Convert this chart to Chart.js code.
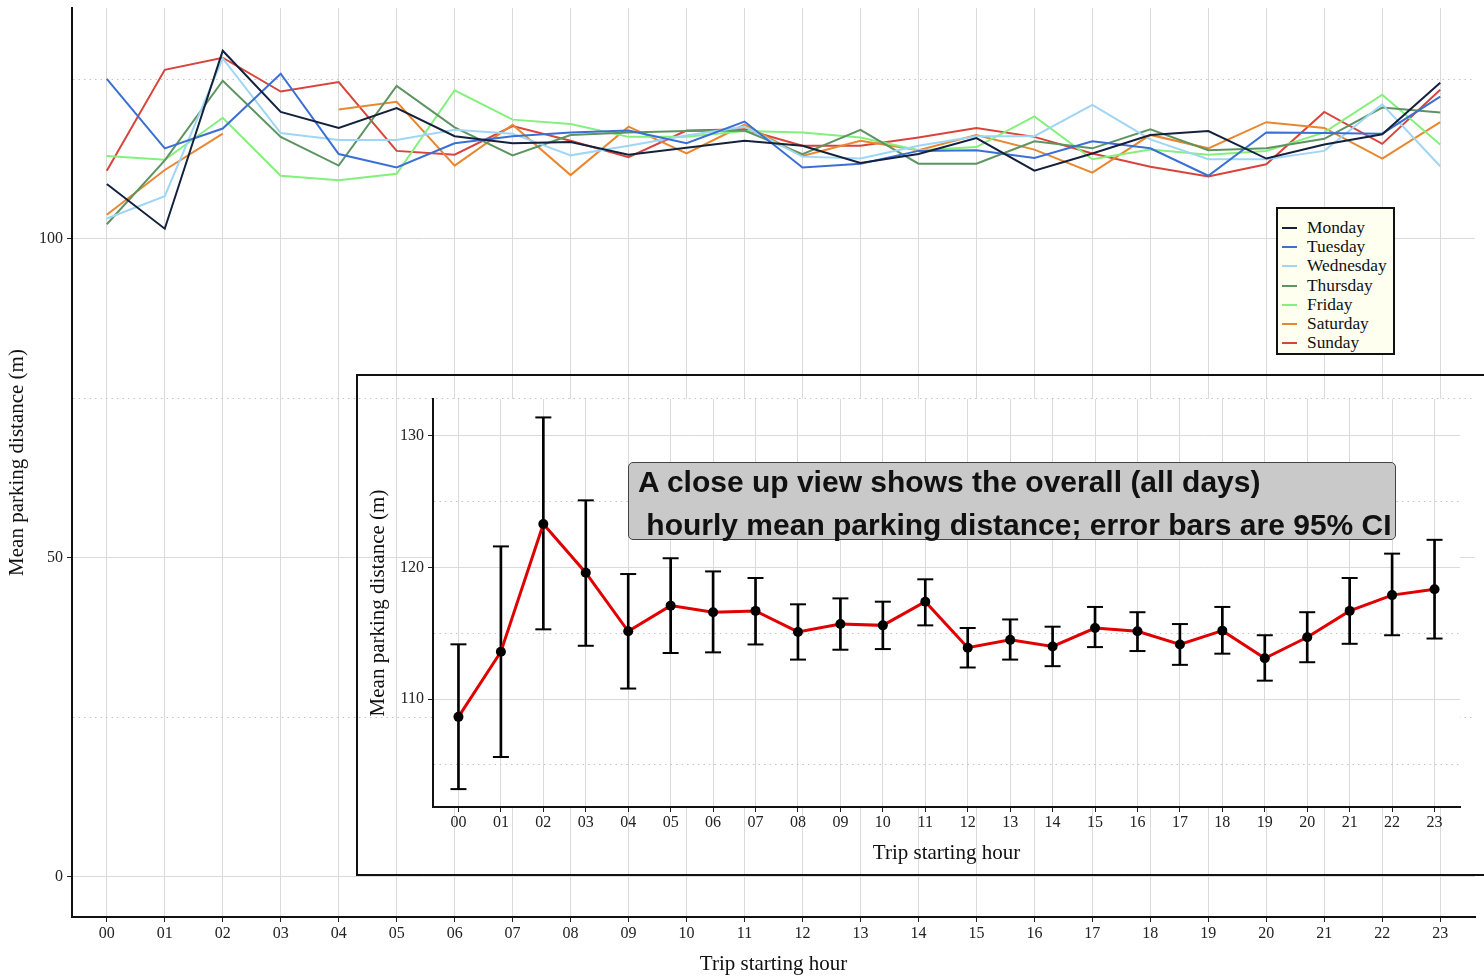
<!DOCTYPE html>
<html>
<head>
<meta charset="utf-8">
<title>Mean parking distance by trip starting hour</title>
<script src="https://cdn.jsdelivr.net/npm/chart.js@4.4.1/dist/chart.umd.min.js"></script>
<style>
  body { margin: 0; background: #fff; }
  #page { position: relative; width: 1484px; height: 978px; overflow: hidden; }
  canvas { position: absolute; }
  #legendBox {
    position: absolute; left: 1276px; top: 207px; width: 119px; height: 148px;
    box-sizing: border-box; border: 2px solid #111; background: #fffff0;
    padding: 9px 0 0 4px; font-family: 'Liberation Serif', serif; font-size: 17.4px; color: #111;
  }
  .item { height: 19.2px; line-height: 19.2px; white-space: nowrap; }
  .swatch { display: inline-block; width: 15px; height: 2px; vertical-align: middle; margin-right: 10px; position: relative; top: -1px; }
  #insetFrame {
    position: absolute; left: 356px; top: 374px; width: 1200px; height: 502px;
    box-sizing: border-box; border: 2px solid #111;
  }
  #note {
    position: absolute; left: 628px; top: 462px; width: 768px; height: 78px;
    box-sizing: border-box; border: 1px solid #444; border-radius: 5px; background: #c9c9c9;
    font-family: 'Liberation Sans', Arial, sans-serif; font-weight: bold; font-size: 30px;
    color: #111; padding-left: 9px; overflow: visible;
  }
  #note div { position: relative; top: -3px; line-height: 43px; white-space: pre; }
</style>
</head>
<body>
<div id="page">
  <canvas id="mainChart" width="1484" height="978" style="left:0;top:0"></canvas>
  <div id="legendBox"></div>
  <div id="insetFrame"></div>
  <canvas id="insetChart" width="1127" height="500" style="left:357px;top:375px"></canvas>
  <div id="note"><div>A close up view shows the overall (all days)</div><div> hourly mean parking distance; error bars are 95% CI</div></div>
</div>
<script>
// hour categories
const hours = ['00', '01', '02', '03', '04', '05', '06', '07', '08', '09', '10', '11',
               '12', '13', '14', '15', '16', '17', '18', '19', '20', '21', '22', '23'];

// mean parking distance (m) per day of week
const dayNames = ['Monday', 'Tuesday', 'Wednesday', 'Thursday', 'Friday', 'Saturday', 'Sunday'];
const dayColors = ['#14213d', '#3b6fd4', '#9fd6f5', '#5e9462', '#84f07c', '#e8872f', '#d8443b'];

const monday    = [108.6, 101.6, 129.5, 119.9, 117.4, 120.5, 116.1, 115.0, 115.2, 113.2, 114.3, 115.4,
                   114.6, 111.9, 113.3, 115.8, 110.7, 113.4, 116.3, 116.9, 112.6, 114.8, 116.4, 124.5];
const tuesday   = [125.1, 114.2, 117.3, 125.9, 113.3, 111.2, 115.0, 116.1, 116.7, 117.0, 115.0, 118.4,
                   111.2, 111.8, 113.8, 113.9, 112.7, 115.3, 114.2, 109.9, 116.7, 116.6, 116.5, 122.3];
const wednesday = [103.2, 106.7, 128.3, 116.6, 115.5, 115.5, 117.1, 116.5, 113.1, 114.6, 116.2, 117.6,
                   112.9, 112.6, 114.6, 116.1, 116.1, 121.0, 115.6, 112.5, 112.5, 113.8, 121.1, 111.4];
const thursday  = [102.3, 112.3, 124.8, 116.0, 111.5, 124.0, 117.5, 113.1, 116.3, 116.7, 116.9, 117.0,
                   113.3, 117.1, 111.8, 111.8, 115.3, 114.2, 117.2, 113.9, 114.2, 115.7, 120.6, 119.8];
const friday    = [113.0, 112.4, 119.0, 109.9, 109.2, 110.2, 123.3, 118.7, 118.0, 116.0, 116.0, 116.9,
                   116.7, 115.9, 113.9, 114.4, 119.2, 112.5, 114.0, 113.2, 113.8, 116.7, 122.6, 114.8];
const saturday  = [103.8, 110.8, 116.5, null, 120.3, 121.5, 111.5, 117.9, 110.0, 117.6, 113.4, 117.9,
                   113.0, 115.4, 113.9, 116.3, 114.0, 110.4, 116.3, 114.2, 118.3, 117.4, 112.6, 118.3];
const sunday    = [110.7, 126.5, 128.4, 123.1, 124.6, 113.8, 113.2, 117.7, 115.4, 112.8, 117.0, 117.2,
                   114.6, 114.6, 115.9, 117.4, 116.0, 113.4, 111.3, 109.8, 111.7, 119.9, 114.9, 123.4];
const dayValues = [monday, tuesday, wednesday, thursday, friday, saturday, sunday];

// all days together: hourly mean with 95% CI
const overallMean = [108.65, 113.6, 123.3, 119.6, 115.15, 117.1, 116.6, 116.7, 115.1, 115.7, 115.6, 117.4,
                     113.9, 114.5, 114.0, 115.4, 115.15, 114.15, 115.2, 113.1, 114.7, 116.7, 117.9, 118.35];
const ciLow  = [103.16, 105.6, 115.3, 114.05, 110.8, 113.5, 113.55, 114.15, 113.0, 113.75, 113.8, 115.6,
                112.4, 113.0, 112.5, 113.95, 113.65, 112.6, 113.45, 111.4, 112.8, 114.2, 114.85, 114.6];
const ciHigh = [114.16, 121.6, 131.4, 125.1, 119.5, 120.7, 119.7, 119.2, 117.2, 117.65, 117.4, 119.1,
                115.4, 116.05, 115.5, 117.0, 116.6, 115.7, 117.0, 114.85, 116.6, 119.2, 121.05, 122.1];

// tick labels (major) and dotted minor gridlines
const mainYTicks = [0, 50, 100];
const mainYMinor = [25, 75, 125];
const insetYTicks = [110, 120, 130];
const insetYMinor = [105, 115, 125];

Chart.defaults.font.family = "'Liberation Serif', 'DejaVu Serif', serif";
Chart.defaults.color = '#222';

function hourAxis(height, titlePad, tickPad) {
  return {
    type: 'linear', min: -0.6, max: 23.6, offset: false,
    afterBuildTicks: s => { s.ticks = hours.map((h, i) => ({value: i})); },
    afterFit: s => { s.height = height; s.paddingLeft = 0; s.paddingRight = 0; },
    grid: {color: '#dadada', lineWidth: 1, offset: false, tickLength: 5, tickColor: '#222', tickWidth: 1},
    border: {display: true, color: '#111', width: 2},
    ticks: {autoSkip: false, maxRotation: 0, padding: tickPad, font: {size: 16}, callback: v => hours[v]},
    title: {display: true, text: 'Trip starting hour', color: '#111', font: {size: 21},
            padding: {top: 0, bottom: titlePad}}
  };
}

function valueAxis(min, max, majors, minors, width, titlePad) {
  const all = majors.concat(minors).sort((a, b) => a - b);
  const isMinor = ctx => ctx.tick && minors.includes(ctx.tick.value);
  return {
    min: min, max: max,
    afterBuildTicks: s => { s.ticks = all.map(v => ({value: v})); },
    afterFit: s => { s.width = width; s.paddingTop = 0; s.paddingBottom = 0; },
    grid: {
      color: ctx => isMinor(ctx) ? '#c4c4c4' : '#dadada',
      lineWidth: 1, tickLength: 5, tickWidth: 1,
      tickColor: ctx => isMinor(ctx) ? 'rgba(0,0,0,0)' : '#222'
    },
    border: {display: true, color: '#111', width: 2, dash: ctx => isMinor(ctx) ? [1.5, 4] : []},
    ticks: {padding: 4, font: {size: 16}, callback: v => majors.includes(v) ? String(v) : ''},
    title: {display: true, text: 'Mean parking distance (m)', color: '#111', font: {size: 21},
            padding: {top: titlePad, bottom: 0}}
  };
}

// main chart: one line per weekday
new Chart(document.getElementById('mainChart'), {
  type: 'line',
  data: {
    datasets: dayNames.map((name, d) => ({
      label: name,
      data: dayValues[d].map((v, i) => ({x: i, y: v})),
      borderColor: dayColors[d],
      borderWidth: 2,
      pointRadius: 0,
      tension: 0,
      spanGaps: false
    }))
  },
  options: {
    responsive: false,
    animation: false,
    layout: {padding: {top: 8, right: 9, left: 0, bottom: 0}},
    plugins: {legend: {display: false}, tooltip: {enabled: false}},
    scales: {
      x: hourAxis(61, 1.4, 2),
      y: valueAxis(-6.3, 136.2, mainYTicks, mainYMinor, 72, 5)
    }
  }
});

// legend box
const legendBox = document.getElementById('legendBox');
dayNames.forEach((name, d) => {
  const row = document.createElement('div');
  row.className = 'item';
  row.innerHTML = '<span class="swatch" style="background:' + dayColors[d] + '"></span>' + name;
  legendBox.appendChild(row);
});

// white panel behind the inset plot area
const panelFill = {
  id: 'panelFill',
  beforeDraw(chart) {
    const {ctx, chartArea: a} = chart;
    ctx.save();
    ctx.fillStyle = '#fff';
    ctx.fillRect(a.left, a.top, a.right - a.left, a.bottom - a.top);
    ctx.restore();
  }
};

// inset: overall hourly mean with error bars
new Chart(document.getElementById('insetChart'), {
  type: 'line',
  data: {
    datasets: [
      {
        type: 'bar',
        data: hours.map((h, i) => ({x: i, y: [ciLow[i], ciHigh[i]]})),
        backgroundColor: '#000',
        borderWidth: 0,
        barThickness: 2,
        grouped: false,
        order: 3
      },
      {
        type: 'scatter',
        data: ciHigh.map((v, i) => ({x: i, y: v})),
        pointStyle: 'line', pointRadius: 8, borderColor: '#000', borderWidth: 2,
        showLine: false, order: 2
      },
      {
        type: 'scatter',
        data: ciLow.map((v, i) => ({x: i, y: v})),
        pointStyle: 'line', pointRadius: 8, borderColor: '#000', borderWidth: 2,
        showLine: false, order: 2
      },
      {
        type: 'line',
        data: overallMean.map((v, i) => ({x: i, y: v})),
        borderColor: '#e00000',
        borderWidth: 3,
        tension: 0,
        pointRadius: 5,
        pointBackgroundColor: '#000',
        pointBorderColor: '#000',
        pointBorderWidth: 0,
        order: 0
      }
    ]
  },
  options: {
    responsive: false,
    animation: false,
    layout: {padding: {top: 24, right: 24, left: 0, bottom: 0}},
    plugins: {legend: {display: false}, tooltip: {enabled: false}},
    scales: {
      x: hourAxis(68, 9.4, 1),
      y: valueAxis(101.8, 132.8, insetYTicks, insetYMinor, 76, 8.4)
    }
  },
  plugins: [panelFill]
});
</script>
</body>
</html>
